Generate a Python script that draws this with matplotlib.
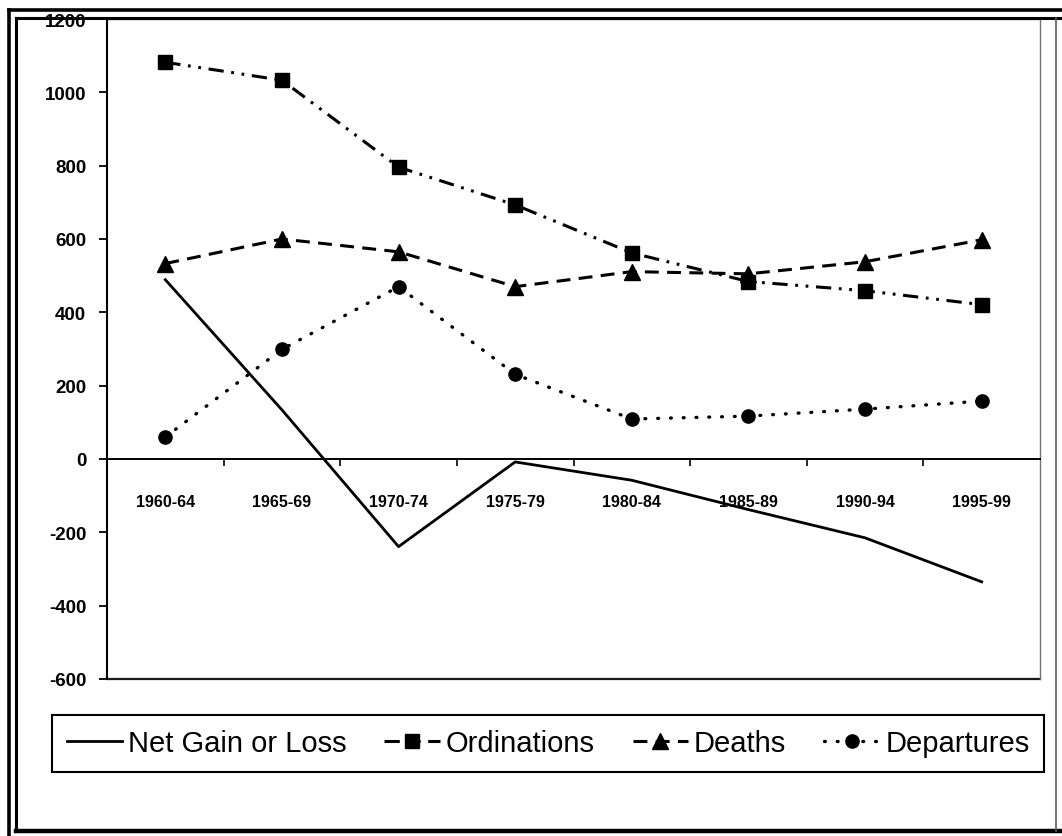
import numpy as np
import matplotlib
matplotlib.use("Agg")
from matplotlib import pyplot as plt
from matplotlib.lines import Line2D

plt.rcParams['font.family'] = ['Liberation Sans', 'DejaVu Sans']
plt.rcParams['lines.scale_dashes'] = False

# Datos
periodos = ['1960-64', '1965-69', '1970-74', '1975-79',
            '1980-84', '1985-89', '1990-94', '1995-99']
ordenaciones = [1082, 1033, 796, 693, 562, 484, 459, 421]
muertes = [533, 600, 565, 470, 511, 505, 538, 598]
salidas = [60, 299, 470, 231, 109, 117, 136, 158]
neto = [489, 134, -239, -8, -58, -138, -215, -335]

y_ticks = [-600, -400, -200, 0, 200, 400, 600, 800, 1000, 1200]

W, H = 1062, 837
fig = plt.figure(figsize=(W / 100, H / 100), dpi=100)


def fx(px):
    return px / W


def fy(py):
    return 1 - py / H


ax = fig.add_axes([fx(107), fy(680), fx(1040) - fx(107), fy(20) - fy(680)])

x = np.arange(len(periodos))

ax.plot(x, neto, color='black', lw=2.0, ls='-', label='Net Gain or Loss', zorder=4)
ax.plot(x, ordenaciones, color='black', lw=2.2, marker='s', ms=10.5,
        ls=(0, (11, 5.5, 2, 5.5, 2, 5.5)), label='Ordinations', zorder=3)
ax.plot(x, muertes, color='black', lw=2.2, marker='^', ms=11,
        ls=(0, (10, 6)), label='Deaths', zorder=3)
ax.plot(x, salidas, color='black', lw=2.4, marker='o', ms=9.5,
        ls=(0, (0.6, 8.6)), dash_capstyle='round', label='Departures', zorder=3)

ax.set_xlim(-0.5, len(periodos) - 0.5)
ax.set_ylim(-600, 1200)

# Eje x sobre el cero, como en Excel
ax.spines['bottom'].set_position(('data', 0))
ax.spines['bottom'].set_linewidth(1.4)
ax.spines['left'].set_linewidth(1.5)
ax.spines['top'].set_color('0.45')
ax.spines['top'].set_linewidth(1.0)
ax.spines['right'].set_color('0.45')
ax.spines['right'].set_linewidth(1.0)
ax.axhline(-600, color='0.1', lw=1.6, clip_on=False, zorder=2)

ax.set_xticks(x)
ax.set_xticklabels(periodos, fontsize=11.5, fontweight='bold')
ax.set_xticks(np.arange(0.5, len(periodos) - 1, 1.0), minor=True)
ax.tick_params(axis='x', which='major', length=0, pad=25)
ax.tick_params(axis='x', which='minor', length=5, width=1.2, direction='out')

ax.set_yticks(y_ticks)
ax.set_yticklabels([str(v) for v in y_ticks], fontsize=13.5, fontweight='bold')
ax.tick_params(axis='y', length=6, width=1.3, direction='out', pad=9)

# Leyenda en un recuadro bajo el grafico
caja = (fx(52), fy(777), fx(1044) - fx(52), fy(712) - fy(777))
leg = fig.legend(loc='center', bbox_to_anchor=caja, mode='expand', ncol=4,
                 fontsize=21, frameon=True, fancybox=False, edgecolor='black',
                 framealpha=1, borderpad=0.5, handlelength=1.9, handletextpad=0.2,
                 borderaxespad=0)
leg.get_frame().set_linewidth(1.5)

# Marco doble alrededor de la figura
def linea(xs, ys, lw, color='black'):
    fig.add_artist(Line2D([fx(v) for v in xs], [fy(v) for v in ys],
                          lw=lw, color=color, zorder=10))

linea([8.5, 8.5], [11, 837], 2.6)
linea([8.5, 1062], [11, 11], 2.6)
linea([16, 16], [19, 832], 2.2)
linea([16, 1062], [19, 19], 2.2)
linea([16, 1062], [832, 832], 3.2)
linea([1056, 1056], [19, 832], 1.2, '0.35')

fig.savefig('out.png', dpi=100)
